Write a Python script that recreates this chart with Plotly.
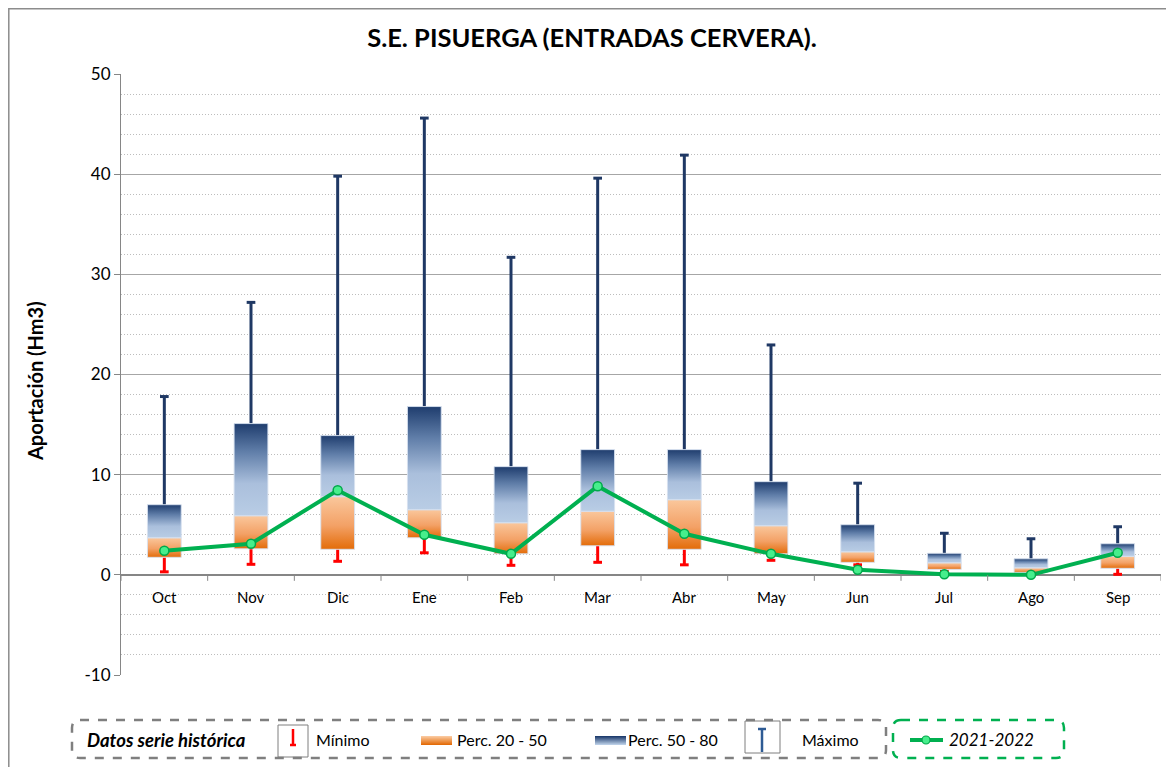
import plotly.graph_objects as go

# ---------------- data ----------------
months = ["Oct", "Nov", "Dic", "Ene", "Feb", "Mar", "Abr", "May", "Jun", "Jul", "Ago", "Sep"]
minimo = [0.3, 1.05, 1.35, 2.2, 0.95, 1.25, 1.0, 1.45, 1.0, 0.35, 0.1, 0.05]
perc20 = [1.75, 2.6, 2.55, 3.7, 2.1, 2.9, 2.55, 2.1, 1.25, 0.55, 0.25, 0.65]
perc50 = [3.7, 5.9, 7.8, 6.5, 5.2, 6.35, 7.5, 4.9, 2.3, 1.2, 0.7, 1.85]
perc80 = [7.0, 15.1, 13.9, 16.8, 10.8, 12.5, 12.5, 9.3, 5.0, 2.15, 1.6, 3.1]
maximo = [17.8, 27.2, 39.8, 45.6, 31.7, 39.6, 41.9, 22.95, 9.15, 4.15, 3.6, 4.8]
serie_2021_2022 = [2.4, 3.1, 8.45, 4.0, 2.1, 8.85, 4.1, 2.1, 0.5, 0.05, 0.0, 2.2]

y_ticks = [-10, 0, 10, 20, 30, 40, 50]

# ---------------- styling ----------------
OFF = 8                      # page body margin
W, H = 1174 - OFF, 767 - OFF
L, T = 121 - OFF, 74 - OFF
R = W - (1161 - OFF)
B = H - (675 - OFF)
PW, PH = W - L - R, H - T - B
FONT = "Lato"
NAVY = "#1F3864"
RED = "#FF0000"
GREEN = "#00B050"
ORANGE_SCALE = [[0, "#E36C09"], [0.45, "#F3A166"], [1, "#FAC79C"]]
BLUE_SCALE = [[0, "#B9CDE5"], [0.35, "#AABFDC"], [0.7, "#5F7DA8"], [1, "#1F3D6E"]]
BW = 0.39   # box width (category units)
CW = 0.05   # half cap width


def px(x):
    # page pixel x -> paper fraction
    return (x - OFF - L) / PW


def py(y):
    # page pixel y -> paper fraction
    return (H - B - (y - OFF)) / PH


fig = go.Figure()

# whiskers (max) and (min)
xs_max, ys_max, xs_min, ys_min = [], [], [], []
for i in range(len(months)):
    xs_max += [i, i, None, i - CW, i + CW, None]
    ys_max += [perc80[i], maximo[i], None, maximo[i], maximo[i], None]
    xs_min += [i, i, None, i - CW, i + CW, None]
    ys_min += [perc20[i], minimo[i], None, minimo[i], minimo[i], None]

fig.add_trace(go.Scatter(x=xs_max, y=ys_max, mode="lines", line=dict(color=NAVY, width=3),
                         showlegend=False, hoverinfo="skip"))
fig.add_trace(go.Scatter(x=xs_min, y=ys_min, mode="lines", line=dict(color=RED, width=3),
                         showlegend=False, hoverinfo="skip"))

# boxes with gradient fills
for i in range(len(months)):
    x0, x1 = i - BW / 2, i + BW / 2
    for lo, hi, scale in ((perc20[i], perc50[i], ORANGE_SCALE), (perc50[i], perc80[i], BLUE_SCALE)):
        fig.add_trace(go.Scatter(
            x=[x0, x1, x1, x0, x0], y=[lo, lo, hi, hi, lo],
            mode="lines", fill="toself",
            fillgradient=dict(type="vertical", colorscale=scale),
            line=dict(color="rgba(215,225,240,0.9)", width=1),
            showlegend=False, hoverinfo="skip"))

# current year line
fig.add_trace(go.Scatter(
    x=list(range(len(months))), y=serie_2021_2022, mode="lines+markers",
    line=dict(color=GREEN, width=4),
    marker=dict(size=9, color="#47EE8C", line=dict(color="#00A84A", width=1.5)),
    showlegend=False, name="2021-2022"))

shapes = []
annotations = []

# x-axis category boundary tick marks
for k in range(len(months) + 1):
    shapes.append(dict(type="line", xref="x", yref="y", x0=k - 0.5, x1=k - 0.5,
                       ysizemode="pixel", yanchor=0, y0=0, y1=-6,
                       line=dict(color="#868686", width=1)))

# month labels
for i, m in enumerate(months):
    annotations.append(dict(x=i, y=0, xref="x", yref="y", text=m, showarrow=False,
                            yanchor="top", yshift=-11, font=dict(family=FONT, size=15, color="#000")))

# outer chart border
shapes.append(dict(type="rect", xref="paper", yref="paper", x0=px(8.8), x1=px(1190),
                   y0=py(8.8), y1=py(790), line=dict(color="#8C8C8C", width=1.5), layer="below"))


def rounded_rect(x0, y0, x1, y1, r):
    def P(x, y):
        return f"{px(x):.5f},{py(y):.5f}"
    return ("M " + P(x0 + r, y0) + " L " + P(x1 - r, y0) + " Q " + P(x1, y0) + " " + P(x1, y0 + r) +
            " L " + P(x1, y1 - r) + " Q " + P(x1, y1) + " " + P(x1 - r, y1) +
            " L " + P(x0 + r, y1) + " Q " + P(x0, y1) + " " + P(x0, y1 - r) +
            " L " + P(x0, y0 + r) + " Q " + P(x0, y0) + " " + P(x0 + r, y0) + " Z")


# legend frames
shapes.append(dict(type="path", xref="paper", yref="paper", path=rounded_rect(72, 720, 886, 758, 8),
                   line=dict(color="#7F7F7F", width=2.5, dash="dash")))
shapes.append(dict(type="path", xref="paper", yref="paper", path=rounded_rect(893, 720, 1064, 758, 8),
                   line=dict(color="#00B050", width=2.5, dash="dash")))

# legend icon boxes (Minimo / Maximo)
shapes.append(dict(type="rect", xref="paper", yref="paper", x0=px(278), x1=px(308), y0=py(725), y1=py(757),
                   line=dict(color="#7F7F7F", width=1)))
shapes.append(dict(type="line", xref="paper", yref="paper", x0=px(293), x1=px(293), y0=py(729), y1=py(745),
                   line=dict(color=RED, width=2.5)))
shapes.append(dict(type="line", xref="paper", yref="paper", x0=px(290), x1=px(296), y0=py(745), y1=py(745),
                   line=dict(color=RED, width=2.5)))
shapes.append(dict(type="rect", xref="paper", yref="paper", x0=px(745), x1=px(780), y0=py(721), y1=py(753),
                   line=dict(color="#7F7F7F", width=1)))
shapes.append(dict(type="line", xref="paper", yref="paper", x0=px(762), x1=px(762), y0=py(728), y1=py(752),
                   line=dict(color="#2E5B94", width=2.5)))
shapes.append(dict(type="line", xref="paper", yref="paper", x0=px(758), x1=px(766), y0=py(729), y1=py(729),
                   line=dict(color="#2E5B94", width=2.5)))


def interp(c0, c1, t):
    a = [int(c0[j:j + 2], 16) for j in (1, 3, 5)]
    b = [int(c1[j:j + 2], 16) for j in (1, 3, 5)]
    return "rgb(%d,%d,%d)" % tuple(round(a[k] + (b[k] - a[k]) * t) for k in range(3))


# gradient legend swatches
for (sx0, sx1, top_c, bot_c) in ((421, 452, "#FAC79C", "#E36C09"), (595, 626, "#1F3D6E", "#B9CDE5")):
    n = 9
    for s in range(n):
        y0 = 736 + s * 9 / n
        y1 = 736 + (s + 1) * 9 / n
        shapes.append(dict(type="rect", xref="paper", yref="paper", x0=px(sx0), x1=px(sx1),
                           y0=py(y0), y1=py(y1), line=dict(width=0),
                           fillcolor=interp(top_c, bot_c, s / (n - 1))))

# green line legend icon
shapes.append(dict(type="line", xref="paper", yref="paper", x0=px(910), x1=px(943), y0=py(740), y1=py(740),
                   line=dict(color=GREEN, width=4)))
shapes.append(dict(type="circle", xref="paper", yref="paper", x0=px(922), x1=px(930), y0=py(736), y1=py(744),
                   fillcolor="#47EE8C", line=dict(color="#00A84A", width=1.2)))


def label(x, text, size=16, bold=False, italic=False, anchor="left"):
    t = text
    if bold:
        t = "<b>" + t + "</b>"
    if italic:
        t = "<i>" + t + "</i>"
    annotations.append(dict(x=px(x), y=py(740), xref="paper", yref="paper", text=t, showarrow=False,
                            xanchor=anchor, yanchor="middle", font=dict(family=FONT, size=size, color="#000")))


label(85, "Datos serie histórica", size=18.5, bold=True, italic=True)
label(314, "Mínimo")
label(455, "Perc. 20 - 50")
label(626, "Perc. 50 - 80")
label(800, "Máximo")
label(947, "2021-2022", size=17, italic=True)

# y-axis title
annotations.append(dict(x=px(35), y=py(381), xref="paper", yref="paper", text="<b>Aportación (Hm3)</b>",
                        textangle=-90, showarrow=False, xanchor="center", yanchor="middle",
                        font=dict(family=FONT, size=20, color="#000")))

fig.update_layout(
    width=W, height=H,
    margin=dict(l=L, r=R, t=T, b=B, pad=0),
    paper_bgcolor="white", plot_bgcolor="white",
    title=dict(text="<b>S.E. PISUERGA (ENTRADAS CERVERA).</b>", x=(592 - OFF) / W, xanchor="center",
               y=1 - (38 - OFF) / H, yanchor="middle", xref="container", yref="container",
               font=dict(family=FONT, size=25.5, color="#000")),
    xaxis=dict(range=[-0.5, len(months) - 0.5], showticklabels=False, showgrid=False,
               zeroline=False, showline=False, ticks=""),
    yaxis=dict(range=[-10, 50], tickvals=y_ticks, ticktext=[str(v) for v in y_ticks],
               showline=True, linecolor="#868686", linewidth=1,
               ticks="outside", ticklen=6, tickcolor="#868686",
               showgrid=True, gridcolor="#A6A6A6", gridwidth=1,
               zeroline=True, zerolinecolor="#868686", zerolinewidth=1.5,
               minor=dict(dtick=2, tick0=0, showgrid=True, gridcolor="#BDBDBD", griddash="1px,2px", ticks=""),
               tickfont=dict(family=FONT, size=17, color="#000")),
    shapes=shapes, annotations=annotations,
    showlegend=False,
)

fig.write_html("out.html")
